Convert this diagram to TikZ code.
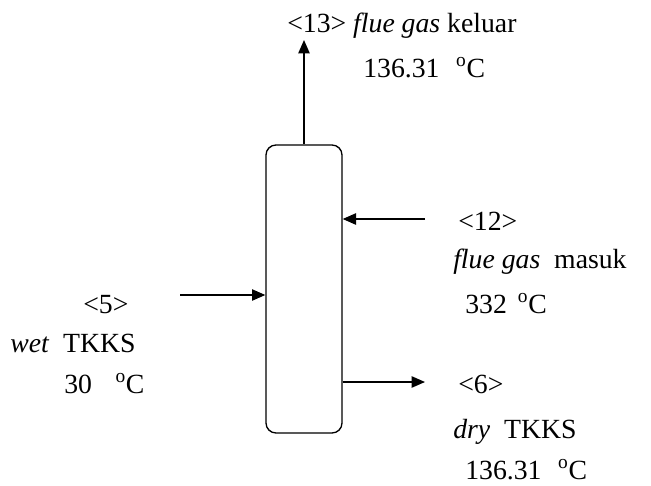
\documentclass[tikz,border=0pt]{standalone}
\usepackage{fontspec}
\setmainfont{Liberation Serif}
\usetikzlibrary{positioning, arrows.meta}

\newcommand{\degC}{\textsuperscript{o}C}

\begin{document}
\begin{tikzpicture}[x=0.75pt, y=-0.75pt,
    dryer/.style={rectangle, draw, line width=1pt, rounded corners=7.5pt, minimum width=57pt, minimum height=216pt},
    arr/.style={-{Triangle[length=10pt, width=8.5pt]}, line width=1pt},
    lbl/.style={anchor=base west, inner sep=0pt, font=\fontsize{20.8}{24}\selectfont},
]
\useasboundingbox (0,0) rectangle (651,486);

\node[dryer] (drum) at (304,289) {};

\coordinate (out13) at (304,40);
\coordinate (in12) at (425,219);
\coordinate (in5) at (180,295);
\coordinate (out6) at (425,382);

\draw[arr] (drum.north) -- (out13);
\draw[arr] (in12) -- (in12 -| drum.east);
\draw[arr] (in5) -- (in5 -| drum.west);
\draw[arr] (out6 -| drum.east) -- (out6);

% stream 13
\node[lbl] (s13) at (287,32) {<13> \textit{flue gas} keluar};
\node[lbl] (t13) at (363,77) {136.31\hspace{0.6em}\degC};

% stream 12
\node[lbl] (s12) at (458,230) {<12>};
\node[lbl] (n12) at (453,268) {\textit{flue gas}\ \ masuk};
\node[lbl] (t12) at (465,313) {332\hspace{0.4em}\degC};

% stream 5
\node[lbl] (s5) at (83,313) {<5>};
\node[lbl] (n5) at (10,352) {\textit{wet}\ \ TKKS};
\node[lbl] (t5) at (64,393) {30\hspace{0.85em}\degC};

% stream 6
\node[lbl] (s6) at (458,393) {<6>};
\node[lbl] (n6) at (453,438) {\textit{dry}\ \ TKKS};
\node[lbl] (t6) at (465,479) {136.31\hspace{0.6em}\degC};
\end{tikzpicture}
\end{document}
